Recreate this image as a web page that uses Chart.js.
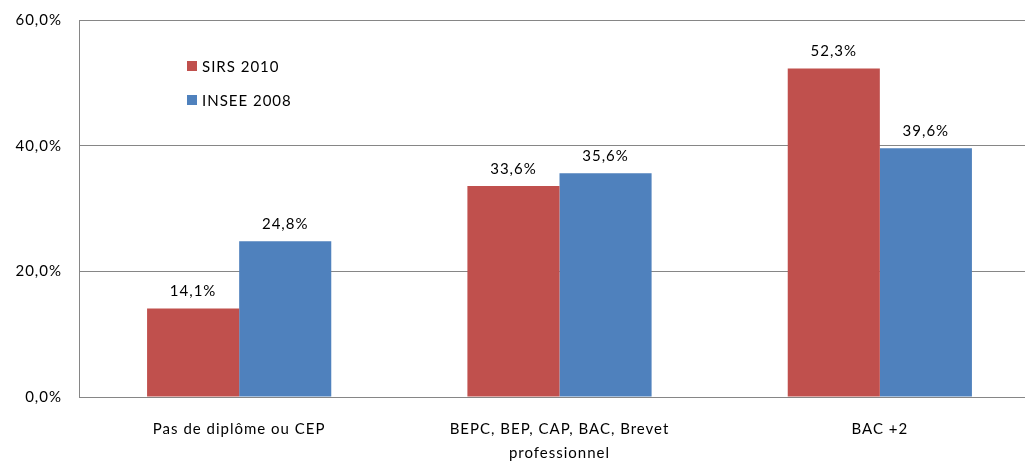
<!DOCTYPE html>
<html><head><meta charset="utf-8">
<script src="https://cdn.jsdelivr.net/npm/chart.js@4/dist/chart.umd.min.js"></script>
<style>html,body{margin:0;padding:0;overflow:hidden;background:#fff;width:1025px;height:462px}canvas{display:block}</style>
</head><body>
<canvas id="c" width="1040" height="462"></canvas>
<script>
const categories = [["Pas de diplôme ou CEP"], ["BEPC, BEP, CAP, BAC, Brevet", "professionnel"], ["BAC +2"]];
const sirs2010 = [14.1, 33.6, 52.3];
const insee2008 = [24.8, 35.6, 39.6];
const seriesNames = ["SIRS 2010", "INSEE 2008"];
const yTicks = [0, 20, 40, 60];
const FONT = "Lato, 'Open Sans', sans-serif";
const fmt = v => v.toFixed(1).replace('.', ',');

const spacingPlugin = {
  id: 'spacing',
  beforeDraw(chart) { chart.ctx.letterSpacing = '1px'; }
};
const labelPlugin = {
  id: 'vals',
  afterDatasetsDraw(chart) {
    const ctx = chart.ctx;
    ctx.save();
    ctx.letterSpacing = '1px';
    ctx.font = "15px " + FONT;
    ctx.fillStyle = "#000";
    ctx.textAlign = "center";
    ctx.textBaseline = "middle";
    chart.data.datasets.forEach((ds, i) => {
      chart.getDatasetMeta(i).data.forEach((bar, j) => {
        ctx.fillText(fmt(ds.data[j]) + "%", bar.x, bar.y - 17);
      });
    });
    ctx.restore();
  }
};
const legendPlugin = {
  id: 'inlegend',
  afterDraw(chart) {
    const ctx = chart.ctx;
    ctx.save();
    ctx.letterSpacing = '1px';
    ctx.font = "15px " + FONT;
    ctx.textBaseline = "middle";
    chart.data.datasets.forEach((ds, i) => {
      const y = 66 + i * 34;
      ctx.fillStyle = ds.backgroundColor;
      ctx.fillRect(187, y - 5, 10, 10);
      ctx.fillStyle = "#000";
      ctx.fillText(ds.label, 202, y + 1);
    });
    ctx.restore();
  }
};

new Chart(document.getElementById('c'), {
  type: 'bar',
  data: {
    labels: categories,
    datasets: [
      { label: seriesNames[0], data: sirs2010, backgroundColor: '#C0504D' },
      { label: seriesNames[1], data: insee2008, backgroundColor: '#4F81BD' }
    ]
  },
  options: {
    responsive: false,
    animation: false,
    layout: { padding: { top: 20, right: 0, bottom: 0, left: 0 } },
    categoryPercentage: 0.575,
    barPercentage: 1.0,
    plugins: { legend: { display: false }, tooltip: { enabled: false } },
    scales: {
      x: {
        grid: { display: false, drawTicks: false },
        border: { color: '#868686', width: 1 },
        ticks: { color: '#000', font: { family: FONT, size: 15, lineHeight: 1.55 }, padding: 21, maxRotation: 0, autoSkip: false },
        afterFit(s) { s.height = 65; s.paddingLeft = 0; s.paddingRight = 0; }
      },
      y: {
        min: 0, max: 60,
        afterBuildTicks(s) { s.ticks = yTicks.map(v => ({ value: v })); },
        grid: { color: '#868686', drawTicks: false },
        border: { color: '#868686', width: 1 },
        ticks: { color: '#000', font: { family: FONT, size: 15 }, padding: 17, callback: v => fmt(v) + '%' },
        afterFit(s) { s.width = 79; s.paddingTop = 0; s.paddingBottom = 0; }
      }
    }
  },
  plugins: [spacingPlugin, labelPlugin, legendPlugin]
});
</script>
</body></html>
